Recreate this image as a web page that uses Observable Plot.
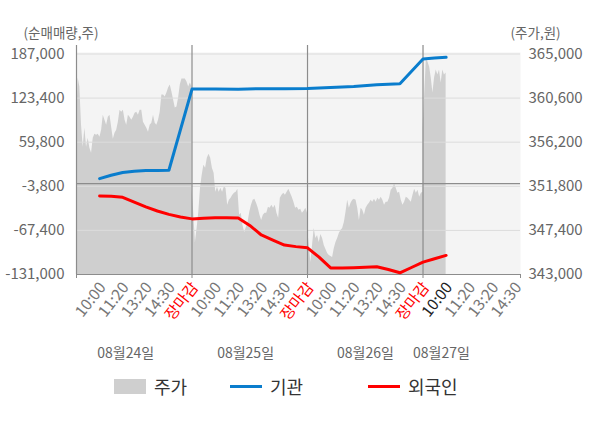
<!DOCTYPE html>
<html><head><meta charset="utf-8">
<script src="https://cdn.jsdelivr.net/npm/d3@7"></script>
<script src="https://cdn.jsdelivr.net/npm/@observablehq/plot@0.6"></script>
<style>
body{margin:0;background:#fff;font-family:"Noto Sans CJK KR",sans-serif;}
#legend{position:relative;width:600px;height:40px;font-size:18px;color:#333;}
.item{position:absolute;top:0;height:28px;display:flex;align-items:center;}
.sw{display:inline-block;width:32px;margin-right:8px;}
</style></head><body><div id="chart"></div><div id="legend"></div>
<script>
// ---- data ----
const days = ["08월24일", "08월25일", "08월26일", "08월27일"];
const price24 = [357900, 362600, 361700, 357900, 355700, 357600, 355700, 356600, 355600, 355100, 356600, 357000, 356900, 357000, 356700, 357400, 358900, 358400, 357900, 358700, 358900, 357700, 356500, 357100, 357400, 358200, 359400, 359200, 359400, 358400, 357900, 358900, 358700, 358400, 358700, 359100, 359200, 358900, 359400, 359400, 358200, 357900, 357600, 357200, 357900, 358100, 358900, 358100, 357900, 358400, 359200, 360900, 360900, 360700, 361100, 361600, 361900, 361200, 360400, 359600, 359700, 360600, 361900, 362500, 362500, 362500, 362200, 361700, 362100, 361700];
const price25 = [351600, 349200, 346200, 347600, 349200, 351600, 352900, 353900, 353600, 354600, 355000, 354600, 353600, 353100, 351200, 351700, 351200, 351600, 351200, 351700, 351600, 349900, 350400, 350600, 350900, 351100, 351200, 351500, 348900, 349100, 347900, 347200, 347700, 348200, 349200, 349900, 350400, 350500, 350100, 349600, 348900, 348400, 348900, 349100, 349100, 349700, 349600, 349900, 349600, 349900, 349100, 348600, 350600, 350900, 351100, 350900, 351200, 351500, 351100, 350700, 350200, 349600, 349700, 349400, 349500, 349100, 349300, 349600, 349100];
const price26 = [347600, 346000, 344200, 345900, 347600, 346600, 346900, 346200, 347000, 346600, 345900, 345500, 345100, 344900, 344800, 344700, 345600, 346200, 346600, 347100, 347400, 347600, 348200, 349200, 350400, 349600, 350100, 350400, 350500, 350400, 349600, 348400, 349600, 349400, 348900, 349600, 349900, 350100, 350400, 350200, 350500, 350200, 350600, 350400, 350700, 350400, 349900, 350200, 350200, 350600, 351400, 351600, 352000, 351600, 351100, 351200, 350400, 349900, 350200, 350700, 350600, 350400, 350200, 350900, 351500, 351100, 351400, 350700, 351100, 351200];
const price27 = [357600, 360900, 364400, 364200, 363700, 362600, 361100, 362600, 363400, 362900, 363400, 362100, 363400, 362900, 363100];
const daySlots = [5, 5, 5, 1];           // time slots covered by each day's price data
// cumulative net buying; t = time slot (each day: 10:00, 11:20, 13:20, 14:30, 장마감)
const instT = [1, 1.5, 2, 2.5, 3, 3.5, 4, 5, 6, 7, 8, 9, 10, 11, 12, 13, 14, 15, 15.5, 16];
const instV = [7300, 12100, 16000, 17900, 18900, 19100, 19300, 136400, 136700, 136300, 136900, 137000, 137400, 138800, 140300, 142700, 144100, 179800, 181200, 182200];
const forT = [1, 1.5, 2, 2.5, 3, 3.5, 4, 4.5, 5, 5.5, 6, 6.5, 7, 7.5, 8, 8.5, 9, 9.5, 10, 10.5, 11, 11.5, 12, 12.5, 13, 13.5, 14, 14.5, 15, 15.5, 16];
const forV = [-17800, -18300, -19700, -26500, -33500, -39400, -44300, -48100, -50800, -50000, -49100, -49300, -49600, -60200, -74000, -81300, -88500, -90800, -92500, -106000, -121500, -121800, -121400, -120700, -119900, -123800, -128500, -120900, -113200, -108300, -103500];
const leftTicks = [-131000, -67400, -3800, 59800, 123400, 187000];
const priceTicks = [343000, 347400, 351800, 356200, 360600, 365000];
const tickSlots = [1, 2, 3, 4, 5, 6, 7, 8, 9, 10, 11, 12, 13, 14, 15, 16, 17, 18, 19];
const tickLabels = ["10:00", "11:20", "13:20", "14:30", "장마감", "10:00", "11:20", "13:20", "14:30", "장마감", "10:00", "11:20", "13:20", "14:30", "장마감", "10:00", "11:20", "13:20", "14:30"];
const currentSlot = 16;

// ---- scales helpers ----
const L0 = leftTicks[0], L1 = leftTicks[leftTicks.length - 1];
const P0 = priceTicks[0], P1 = priceTicks[priceTicks.length - 1];
const toY = p => L0 + (p - P0) * (L1 - L0) / (P1 - P0);
const toPrice = v => P0 + (v - L0) * (P1 - P0) / (L1 - L0);
const fmt = v => d3.format(",")(v).replace("\u2212", "-");
const xMax = 19.22;
const dateLabelX = [2.13, 7.32, 12.51, 15.8];

const priceRows = [price24, price25, price26, price27].flatMap((arr, d) =>
  arr.map((p, i) => ({t: d * 5 + daySlots[d] * i / (arr.length - 1), v: toY(p)})));
const instRows = instT.map((t, i) => ({t, v: instV[i]}));
const forRows = forT.map((t, i) => ({t, v: forV[i]}));
const labelOf = t => tickLabels[tickSlots.indexOf(t)];
const closeTicks = tickSlots.filter(t => labelOf(t) === "장마감");
const grayTicks = tickSlots.filter(t => labelOf(t) !== "장마감" && t !== currentSlot);
const daySeps = [0, 5, 10, 15];
const xLab = {tickSize: 0, tickPadding: 10, tickRotate: -52, dx: 3, tickFormat: labelOf, fontSize: 15.5, label: null};

const chart = Plot.plot({
  width: 600, height: 372,
  marginTop: 52, marginBottom: 98, marginLeft: 76, marginRight: 80,
  x: {domain: [0, xMax]},
  y: {domain: [L0, L1], range: [274, 53.5]},
  style: {fontFamily: "'Noto Sans CJK KR', sans-serif", fontSize: "14px", color: "#666", background: "#fff", overflow: "visible"},
  marks: [
    Plot.frame({fill: "#f4f4f4", stroke: "none"}),
    Plot.areaY(priceRows, {x: "t", y1: L0, y2: "v", fill: "#cfcfcf"}),
    Plot.ruleY(leftTicks, {stroke: "#dcdcdc", strokeWidth: 1}),
    Plot.ruleY([0], {stroke: "#8c8c8c", strokeWidth: 1.2}),
    Plot.ruleY([L0], {stroke: "#8c8c8c", strokeWidth: 1.2}),
    Plot.ruleX(daySeps, {stroke: "#8c8c8c", strokeWidth: 1.2, insetTop: -7}),
    Plot.axisX([...daySeps, xMax], {tickSize: 4, tickFormat: () => "", stroke: "#8c8c8c", label: null}),
    Plot.line(instRows, {x: "t", y: "v", stroke: "#0a7dcd", strokeWidth: 3}),
    Plot.line(forRows, {x: "t", y: "v", stroke: "#ff0000", strokeWidth: 3}),
    Plot.axisY(leftTicks, {anchor: "left", tickSize: 0, tickPadding: 12, tickFormat: fmt, fill: "#666", fontSize: 15, label: null}),
    Plot.axisY(leftTicks, {anchor: "right", tickSize: 0, tickPadding: 8, tickFormat: v => fmt(Math.round(toPrice(v))), fill: "#666", fontSize: 15, label: null}),
    Plot.axisX(grayTicks, {...xLab, fill: "#777"}),
    Plot.axisX(closeTicks, {...xLab, fill: "#ff0000"}),
    Plot.axisX([currentSlot], {...xLab, fill: "#222"}),
    Plot.text(days, {x: (d, i) => dateLabelX[i], frameAnchor: "bottom", lineAnchor: "middle", dy: 79, fill: "#666", fontSize: 14}),
    Plot.text(["(순매매량,주)"], {frameAnchor: "top-left", lineAnchor: "middle", dx: -53, dy: -18.5, textAnchor: "start", fill: "#666", fontSize: 13.5}),
    Plot.text(["(주가,원)"], {frameAnchor: "top-right", lineAnchor: "middle", dx: -10, dy: -18.5, textAnchor: "start", fill: "#666", fontSize: 13.5})
  ]
});
document.getElementById("chart").appendChild(chart);

const legend = document.getElementById("legend");
[["주가", "#cfcfcf", 114, 15], ["기관", "#0a7dcd", 230, 3], ["외국인", "#ff0000", 368, 3]].forEach(([name, color, left, h]) => {
  const it = document.createElement("div");
  it.className = "item";
  it.style.left = left + "px";
  const sw = document.createElement("span");
  sw.className = "sw";
  sw.style.height = h + "px";
  sw.style.background = color;
  it.appendChild(sw);
  it.appendChild(document.createTextNode(name));
  legend.appendChild(it);
});
</script></body></html>
